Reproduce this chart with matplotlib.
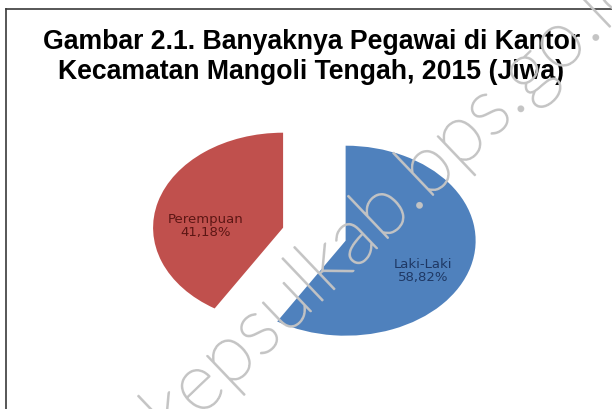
import numpy as np
import matplotlib
matplotlib.use("Agg")
import matplotlib.pyplot as plt
import matplotlib.patheffects as pe
from matplotlib.lines import Line2D

# data (jumlah pegawai)
categories = ["Laki-Laki", "Perempuan"]
counts = [10, 7]
colors = ["#4F81BD", "#C0504D"]
label_colors = ["#1F3864", "#5C1614"]

title = "Gambar 2.1. Banyaknya Pegawai di Kantor\nKecamatan Mangoli Tengah, 2015 (Jiwa)"
watermark = "kepsulkab.bps.go.id"

W, H = 612, 409
fig = plt.figure(figsize=(W / 100, H / 100), dpi=100)
fig.patch.set_facecolor("white")

# pie axes, stretched so the pie is an ellipse (rx ~130px, ry ~95px)
ax = fig.add_axes([0.195, 0.079, 0.6373, 0.6968])
ax.patch.set_alpha(0)
wedges, _ = ax.pie(counts, colors=colors, startangle=90, counterclock=False,
                   explode=[0.25, 0.25], wedgeprops=dict(linewidth=0))
ax.set_aspect("auto")
ax.set_xlim(-1.5, 1.5)
ax.set_ylim(-1.5, 1.5)
ax.axis("off")

total = sum(counts)
for w, cat, n, tc in zip(wedges, categories, counts, label_colors):
    mid = np.deg2rad((w.theta1 + w.theta2) / 2)
    cx, cy = w.center
    pct = f"{100 * n / total:.2f}".replace(".", ",")
    ax.text(cx + 0.62 * np.cos(mid), cy + 0.62 * np.sin(mid) - 0.15, f"{cat}\n{pct}%",
            ha="center", va="center", fontsize=9.5, color=tc, linespacing=1.0)

fig.text(0.509, 1 - 29 / H, title, ha="center", va="top", fontsize=19.2,
         fontweight="bold", family="Liberation Sans", linespacing=1.22)

# watermark drawn over the chart, as in the scanned page
fig.text(395 / W, 1 - 201 / H, watermark, rotation=43.6, rotation_mode="anchor",
         ha="center", va="center", fontsize=58, color="#c4c4c4", alpha=0.9,
         family=["Lato", "DejaVu Sans"], fontweight="light", zorder=5,
         path_effects=[pe.withStroke(linewidth=1.2, foreground="#c4c4c4")])

# frame (only top and left visible in the crop)
fig.add_artist(Line2D([6 / W, 6 / W], [0, 1 - 9 / H], transform=fig.transFigure,
                      color="#3a3a3a", linewidth=1.2))
fig.add_artist(Line2D([6 / W, 1], [1 - 9 / H, 1 - 9 / H], transform=fig.transFigure,
                      color="#3a3a3a", linewidth=1.2))

fig.savefig("out.png", dpi=100)
